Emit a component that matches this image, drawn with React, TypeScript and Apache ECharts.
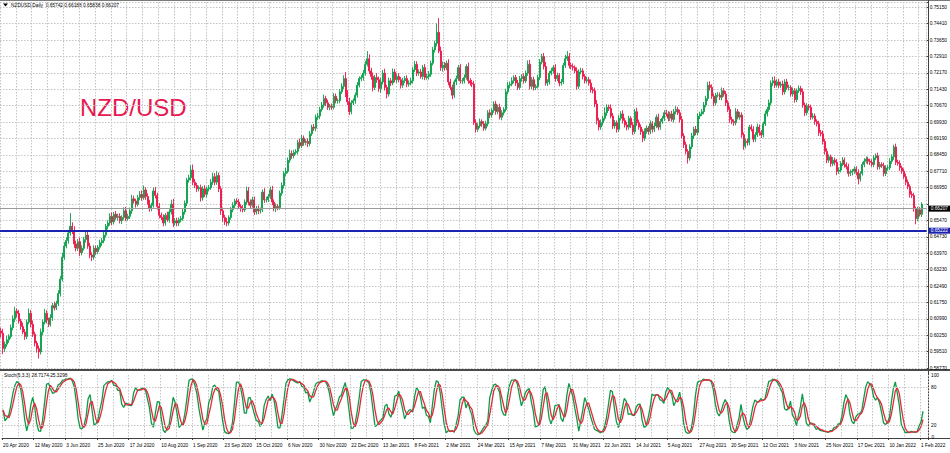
import React, { useEffect, useRef } from 'react';
import * as echarts from 'echarts';

// ---- tick labels ----
const DATE_LABELS = ['20 Apr 2020', '12 May 2020', '3 Jun 2020', '25 Jun 2020', '17 Jul 2020', '10 Aug 2020', '1 Sep 2020', '23 Sep 2020', '15 Oct 2020', '6 Nov 2020', '30 Nov 2020', '22 Dec 2020', '13 Jan 2021', '8 Feb 2021', '2 Mar 2021', '24 Mar 2021', '15 Apr 2021', '7 May 2021', '31 May 2021', '22 Jun 2021', '14 Jul 2021', '5 Aug 2021', '27 Aug 2021', '20 Sep 2021', '12 Oct 2021', '3 Nov 2021', '25 Nov 2021', '17 Dec 2021', '10 Jan 2022', '1 Feb 2022'];
const BARS_PER_DATE_LABEL = 16;
const BARS_PER_GRID = 8;
const TOTAL_SLOTS = 468;

// price scale labels, bottom to top ('' = hidden under the bid label)
const PRICE_LABELS = ['0.58770', '0.59510', '0.60250', '0.60990', '0.61750', '0.62490', '0.63230', '0.63970', '0.64730', '0.65470', '', '0.66950', '0.67710', '0.68450', '0.69190', '0.69930', '0.70670', '0.71430', '0.72170', '0.72910', '0.73650', '0.74410', '0.75150'];
const PRICE_STEP = 0.5877 / 79;
const PRICE_MIN_K = 79;
const PRICE_MAX = 0.75376;
const STOCH_LABELS = [20, 80, 100];
const STOCH_ZERO_LABEL = '0';
const STOCH_LEVELS = [20, 80];

const BID = 0.66207;
const SUPPORT = 0.65222;
const HEADER = 'NZDUSD,Daily  0.65742 0.66188 0.65838 0.66207';
const STOCH_TITLE = 'Stoch(5,3,3) 28.7174 25.3298';

// ---- daily data ----
const FIRST_OPEN = 0.6045;
const CLOSES = [
  0.6035, 0.5965, 0.5985, 0.6005, 0.6020, 0.6060, 0.6100, 0.6135, 0.6125, 0.6090, 0.6065, 0.6040, 0.6020, 0.6085, 0.6125, 0.6075,
  0.6030, 0.5990, 0.5965, 0.5950, 0.6040, 0.6085, 0.6125, 0.6095, 0.6075, 0.6105, 0.6160, 0.6150, 0.6170, 0.6215, 0.6280, 0.6380,
  0.6430, 0.6455, 0.6490, 0.6520, 0.6500, 0.6440, 0.6420, 0.6450, 0.6400, 0.6420, 0.6460, 0.6480, 0.6430, 0.6390, 0.6380, 0.6420,
  0.6405, 0.6425, 0.6445, 0.6455, 0.6480, 0.6520, 0.6535, 0.6565, 0.6540, 0.6575, 0.6560, 0.6565, 0.6545, 0.6560, 0.6590, 0.6555,
  0.6565, 0.6590, 0.6645, 0.6635, 0.6620, 0.6650, 0.6665, 0.6650, 0.6685, 0.6655, 0.6630, 0.6600, 0.6615, 0.6680, 0.6660, 0.6610,
  0.6570, 0.6560, 0.6535, 0.6570, 0.6550, 0.6585, 0.6620, 0.6535, 0.6545, 0.6535, 0.6550, 0.6555, 0.6585, 0.6625, 0.6730, 0.6740,
  0.6775, 0.6720, 0.6705, 0.6690, 0.6695, 0.6650, 0.6690, 0.6665, 0.6690, 0.6695, 0.6720, 0.6745, 0.6720, 0.6750, 0.6690, 0.6590,
  0.6560, 0.6540, 0.6535, 0.6560, 0.6595, 0.6615, 0.6635, 0.6630, 0.6610, 0.6600, 0.6595, 0.6630, 0.6680, 0.6630, 0.6615, 0.6640,
  0.6585, 0.6600, 0.6590, 0.6595, 0.6675, 0.6640, 0.6640, 0.6655, 0.6685, 0.6630, 0.6600, 0.6610, 0.6605, 0.6670, 0.6705, 0.6760,
  0.6770, 0.6820, 0.6850, 0.6840, 0.6855, 0.6860, 0.6900, 0.6885, 0.6920, 0.6900, 0.6905, 0.6895, 0.6940, 0.6970, 0.6965, 0.7015,
  0.7020, 0.7050, 0.7070, 0.7100, 0.7080, 0.7060, 0.7065, 0.7060, 0.7110, 0.7090, 0.7090, 0.7130, 0.7155, 0.7190, 0.7120, 0.7085,
  0.7040, 0.7080, 0.7090, 0.7115, 0.7160, 0.7190, 0.7195, 0.7215, 0.7255, 0.7280, 0.7225, 0.7200, 0.7150, 0.7195, 0.7185, 0.7145,
  0.7175, 0.7215, 0.7150, 0.7120, 0.7180, 0.7170, 0.7220, 0.7185, 0.7200, 0.7185, 0.7160, 0.7180, 0.7190, 0.7165, 0.7170, 0.7180,
  0.7230, 0.7255, 0.7215, 0.7220, 0.7200, 0.7240, 0.7195, 0.7200, 0.7210, 0.7260, 0.7320, 0.7350, 0.7400, 0.7315, 0.7240, 0.7250,
  0.7240, 0.7260, 0.7175, 0.7150, 0.7115, 0.7175, 0.7190, 0.7240, 0.7180, 0.7180, 0.7195, 0.7245, 0.7180, 0.7170, 0.7165, 0.6990,
  0.6960, 0.6975, 0.6995, 0.6985, 0.6965, 0.6985, 0.7035, 0.7025, 0.7045, 0.7075, 0.7040, 0.7060, 0.7015, 0.7035, 0.7050, 0.7130,
  0.7160, 0.7165, 0.7180, 0.7195, 0.7170, 0.7150, 0.7190, 0.7200, 0.7180, 0.7215, 0.7255, 0.7155, 0.7185, 0.7150, 0.7155, 0.7195,
  0.7265, 0.7290, 0.7245, 0.7170, 0.7175, 0.7215, 0.7225, 0.7240, 0.7190, 0.7205, 0.7170, 0.7175, 0.7250, 0.7280, 0.7290, 0.7250,
  0.7245, 0.7240, 0.7225, 0.7155, 0.7220, 0.7225, 0.7200, 0.7180, 0.7185, 0.7170, 0.7140, 0.7135, 0.7075, 0.7000, 0.6970, 0.6990,
  0.7010, 0.7035, 0.7060, 0.7055, 0.7020, 0.6975, 0.6990, 0.6960, 0.7010, 0.7030, 0.7000, 0.6980, 0.6970, 0.7010, 0.6980, 0.6950,
  0.7040, 0.6990, 0.6970, 0.6950, 0.6920, 0.6950, 0.6965, 0.6950, 0.6985, 0.6960, 0.6975, 0.7015, 0.6970, 0.6995, 0.7010, 0.7035,
  0.7030, 0.7010, 0.7030, 0.7005, 0.7040, 0.7050, 0.7035, 0.7005, 0.6930, 0.6890, 0.6860, 0.6830, 0.6880, 0.6930, 0.6960, 0.6945,
  0.7020, 0.7030, 0.7040, 0.7070, 0.7100, 0.7160, 0.7150, 0.7110, 0.7080, 0.7115, 0.7115, 0.7105, 0.7135, 0.7120, 0.7080, 0.7050,
  0.7005, 0.6995, 0.6990, 0.7040, 0.7015, 0.7025, 0.6935, 0.6885, 0.6905, 0.6900, 0.6970, 0.6960, 0.6915, 0.6935, 0.6970, 0.6945,
  0.6935, 0.6985, 0.7030, 0.7050, 0.7080, 0.7170, 0.7180, 0.7160, 0.7175, 0.7160, 0.7165, 0.7130, 0.7175, 0.7150, 0.7150, 0.7120,
  0.7135, 0.7095, 0.7135, 0.7145, 0.7130, 0.7070, 0.7035, 0.7065, 0.7060, 0.7015, 0.7020, 0.6995, 0.6985, 0.6945, 0.6940, 0.6905,
  0.6860, 0.6820, 0.6835, 0.6805, 0.6820, 0.6810, 0.6770, 0.6775, 0.6805, 0.6820, 0.6800, 0.6790, 0.6760, 0.6765, 0.6770, 0.6780,
  0.6765, 0.6735, 0.6760, 0.6800, 0.6815, 0.6825, 0.6815, 0.6810, 0.6800, 0.6830, 0.6840, 0.6790, 0.6800, 0.6795, 0.6760, 0.6785,
  0.6785, 0.6815, 0.6835, 0.6880, 0.6810, 0.6805, 0.6785, 0.6770, 0.6745, 0.6720, 0.6700, 0.6665, 0.6660, 0.6600, 0.6555, 0.6595,
  0.65742, 0.66207,
];
// upper / lower wick lengths in pips beyond the candle body
const UPPER_WICK_PIPS = [
  15, 20, 12, 18, 10, 14, 16, 20, 12, 15, 10, 18, 14, 12, 22, 15,
  18, 12, 10, 14, 16, 12, 20, 14, 10, 16, 12, 18, 12, 15, 14, 20,
  18, 15, 12, 60, 18, 20, 15, 12, 18, 14, 12, 16, 20, 15, 12, 14,
  12, 10, 14, 12, 15, 10, 12, 14, 18, 10, 15, 12, 14, 10, 16, 18,
  12, 15, 18, 14, 10, 12, 15, 18, 20, 12, 14, 10, 12, 16, 18, 12,
  15, 12, 14, 10, 16, 12, 20, 25, 12, 14, 10, 12, 15, 12, 10, 14,
  22, 25, 15, 12, 10, 14, 12, 16, 10, 12, 14, 18, 16, 20, 14, 12,
  15, 12, 18, 10, 12, 14, 10, 12, 14, 10, 16, 12, 20, 18, 12, 14,
  15, 12, 14, 10, 12, 18, 14, 12, 15, 18, 12, 14, 10, 12, 14, 10,
  15, 12, 18, 14, 12, 10, 12, 18, 14, 12, 10, 14, 12, 10, 14, 12,
  15, 12, 14, 18, 12, 14, 10, 12, 14, 12, 10, 12, 14, 15, 30, 18,
  18, 12, 10, 12, 14, 10, 12, 14, 16, 35, 20, 14, 18, 12, 20, 14,
  18, 14, 20, 12, 15, 12, 16, 14, 12, 15, 12, 14, 12, 15, 12, 14,
  12, 15, 14, 12, 14, 12, 16, 12, 14, 12, 14, 12, 40, 65, 20, 18,
  15, 12, 18, 14, 12, 10, 14, 12, 16, 12, 14, 10, 18, 12, 14, 15,
  15, 12, 14, 10, 12, 14, 12, 15, 10, 12, 14, 12, 16, 12, 10, 14,
  14, 12, 16, 10, 12, 14, 12, 10, 14, 12, 18, 20, 12, 14, 10, 12,
  14, 12, 16, 20, 12, 10, 14, 12, 16, 12, 10, 14, 12, 18, 25, 16,
  12, 14, 10, 16, 12, 14, 12, 10, 14, 12, 16, 12, 14, 18, 12, 15,
  12, 25, 14, 12, 18, 14, 12, 10, 14, 12, 16, 12, 14, 12, 10, 14,
  12, 18, 14, 12, 10, 14, 12, 10, 15, 12, 14, 12, 16, 12, 10, 12,
  14, 12, 10, 14, 12, 15, 12, 14, 16, 12, 14, 10, 12, 14, 12, 15,
  12, 10, 12, 14, 12, 15, 18, 14, 12, 10, 14, 12, 15, 12, 14, 12,
  14, 12, 10, 16, 12, 14, 12, 10, 14, 12, 10, 12, 14, 12, 16, 12,
  12, 10, 14, 12, 15, 12, 18, 20, 12, 14, 12, 16, 12, 14, 12, 10,
  14, 12, 10, 14, 12, 15, 12, 14, 10, 12, 14, 12, 10, 14, 12, 15,
  12, 14, 12, 10, 14, 12, 15, 12, 10, 14, 12, 10, 14, 12, 10, 12,
  12, 14, 10, 12, 14, 12, 10, 12, 14, 12, 10, 14, 12, 10, 14, 12,
  12, 14, 12, 10, 15, 12, 14, 10, 12, 14, 12, 10, 14, 12, 10, 14,
  12, 8,
];
const LOWER_WICK_PIPS = [
  20, 25, 15, 12, 14, 10, 12, 15, 18, 12, 14, 10, 15, 12, 10, 14,
  12, 15, 18, 30, 12, 14, 10, 16, 12, 10, 14, 12, 10, 12, 14, 10,
  12, 10, 14, 12, 15, 18, 14, 12, 16, 12, 10, 14, 12, 15, 18, 12,
  14, 12, 10, 14, 12, 10, 14, 12, 15, 12, 10, 14, 12, 15, 10, 12,
  10, 12, 14, 12, 15, 10, 12, 14, 10, 15, 12, 14, 12, 10, 14, 15,
  14, 12, 15, 12, 10, 14, 12, 18, 12, 15, 14, 12, 10, 12, 14, 12,
  12, 14, 12, 15, 12, 18, 14, 12, 14, 12, 10, 12, 14, 12, 15, 18,
  20, 14, 15, 12, 10, 12, 14, 10, 12, 14, 12, 10, 12, 15, 12, 10,
  14, 12, 15, 12, 10, 14, 12, 10, 12, 14, 12, 15, 12, 10, 12, 14,
  12, 10, 12, 14, 12, 10, 14, 12, 10, 14, 12, 15, 12, 10, 12, 14,
  12, 14, 10, 12, 15, 12, 14, 12, 10, 12, 14, 12, 10, 12, 14, 15,
  15, 12, 10, 14, 12, 10, 12, 14, 12, 10, 14, 15, 18, 12, 14, 15,
  20, 12, 14, 20, 12, 14, 10, 12, 14, 12, 15, 12, 10, 14, 12, 10,
  12, 10, 14, 12, 10, 14, 12, 10, 14, 12, 10, 12, 14, 10, 15, 18,
  14, 12, 15, 12, 18, 12, 14, 10, 12, 14, 12, 10, 14, 12, 14, 10,
  15, 12, 10, 14, 12, 10, 12, 14, 12, 10, 14, 12, 10, 14, 12, 10,
  12, 14, 10, 12, 14, 12, 10, 14, 12, 10, 12, 14, 12, 14, 12, 10,
  12, 10, 14, 12, 14, 12, 10, 12, 14, 12, 15, 12, 10, 12, 10, 14,
  12, 14, 10, 15, 12, 10, 14, 12, 10, 12, 14, 12, 15, 18, 15, 12,
  12, 10, 14, 12, 10, 14, 12, 15, 12, 10, 14, 12, 15, 12, 14, 15,
  12, 14, 12, 15, 18, 12, 10, 14, 12, 15, 12, 10, 14, 12, 10, 12,
  12, 14, 12, 10, 14, 12, 10, 14, 12, 15, 14, 25, 12, 10, 14, 12,
  12, 14, 10, 12, 10, 12, 14, 12, 15, 12, 10, 12, 14, 12, 14, 12,
  15, 12, 14, 12, 10, 12, 14, 18, 12, 14, 12, 10, 14, 12, 10, 14,
  14, 12, 10, 12, 10, 12, 14, 12, 10, 14, 12, 15, 12, 10, 14, 12,
  12, 14, 12, 10, 14, 12, 15, 12, 14, 12, 10, 14, 12, 15, 12, 14,
  15, 14, 12, 15, 12, 14, 18, 12, 10, 12, 14, 12, 15, 12, 14, 12,
  14, 25, 12, 10, 12, 10, 14, 12, 10, 12, 10, 14, 12, 10, 14, 12,
  12, 10, 12, 14, 12, 10, 14, 12, 10, 14, 12, 15, 12, 14, 26, 12,
  10, 12,
];

const BULL = '#0aa04a';
const BEAR = '#ec1548';
const STOCH_MAIN = '#0d9a46';
const STOCH_SIGNAL = '#e5283a';
const GRID_LINE = '#c4c4c4';
const FONT = '"Liberation Sans", Arial, sans-serif';

function buildCandles() {
  return CLOSES.map((c, i) => {
    const o = i === 0 ? FIRST_OPEN : CLOSES[i - 1];
    const hi = Math.max(o, c) + (UPPER_WICK_PIPS[i] ?? 10) / 10000;
    const lo = Math.min(o, c) - (LOWER_WICK_PIPS[i] ?? 10) / 10000;
    return [o, c, +lo.toFixed(5), +hi.toFixed(5)];
  });
}

// Stochastic oscillator (5,3,3) of the candles above, as in the terminal
function buildStoch(candles: number[][]) {
  const num: number[] = [];
  const den: number[] = [];
  candles.forEach((k, i) => {
    let ll = Infinity;
    let hh = -Infinity;
    for (let j = Math.max(0, i - 4); j <= i; j++) {
      ll = Math.min(ll, candles[j][2]);
      hh = Math.max(hh, candles[j][3]);
    }
    num.push(k[1] - ll);
    den.push(hh - ll);
  });
  const main: number[] = [];
  for (let i = 0; i < candles.length; i++) {
    let n = 0;
    let d = 0;
    for (let j = Math.max(0, i - 2); j <= i; j++) {
      n += num[j];
      d += den[j];
    }
    main.push(d > 0 ? (100 * n) / d : 50);
  }
  const signal: number[] = [];
  for (let i = 0; i < main.length; i++) {
    let s = 0;
    let c = 0;
    for (let j = Math.max(0, i - 2); j <= i; j++) {
      s += main[j];
      c++;
    }
    signal.push(s / c);
  }
  return { main, signal };
}

export default function App() {
  const ref = useRef<HTMLDivElement>(null);
  useEffect(() => {
    if (!ref.current) return;
    const chart = echarts.init(ref.current, undefined, { renderer: 'svg' });
    const candles = buildCandles();
    const { main, signal } = buildStoch(candles);
    const slots = Array.from({ length: TOTAL_SLOTS }, (_, i) => String(i));

    const labelFont = { fontSize: 4.8, fontFamily: FONT, color: '#000' };
    const splitX = {
      show: true,
      interval: (idx: number) => idx % BARS_PER_GRID === 0,
      lineStyle: { color: GRID_LINE, type: [1.5, 1.5] as any, width: 1 },
    };
    const dateTick = (idx: number) => idx % BARS_PER_DATE_LABEL === 0 && idx / BARS_PER_DATE_LABEL < DATE_LABELS.length;

    chart.setOption({
      animation: false,
      backgroundColor: '#ffffff',
      grid: [
        { left: 0, right: 22, top: 2, height: 366 },
        { left: 0, right: 22, top: 375, height: 63 },
      ],
      xAxis: [
        {
          gridIndex: 0,
          type: 'category',
          data: slots,
          boundaryGap: true,
          axisLine: { show: false },
          axisTick: { show: false },
          axisLabel: { show: false },
          splitLine: splitX,
        },
        {
          gridIndex: 1,
          type: 'category',
          data: slots,
          boundaryGap: true,
          axisLine: { show: true, lineStyle: { color: '#404040', width: 1 } },
          axisTick: { show: true, length: 2, interval: dateTick, lineStyle: { color: '#404040' } },
          axisLabel: {
            ...labelFont,
            margin: 5,
            align: 'left',
            interval: dateTick,
            formatter: (_v: string, idx: number) => DATE_LABELS[idx / BARS_PER_DATE_LABEL] ?? '',
          },
          splitLine: splitX,
        },
      ],
      yAxis: [
        {
          gridIndex: 0,
          type: 'value',
          position: 'right',
          min: PRICE_STEP * PRICE_MIN_K,
          max: PRICE_MAX,
          interval: PRICE_STEP,
          axisLine: { show: false },
          axisTick: { show: true, length: 2, lineStyle: { color: '#404040' } },
          axisLabel: {
            ...labelFont,
            margin: 3,
            showMinLabel: true,
            showMaxLabel: true,
            formatter: (v: number) => {
              const k = Math.round(v / PRICE_STEP);
              if (Math.abs(v - k * PRICE_STEP) > PRICE_STEP * 0.05) return '';
              return PRICE_LABELS[k - PRICE_MIN_K] ?? '';
            },
          },
          splitLine: { show: true, lineStyle: { color: GRID_LINE, type: [1.5, 1.5] as any, width: 1 } },
        },
        {
          gridIndex: 1,
          type: 'value',
          position: 'right',
          min: 0,
          max: 100,
          interval: 20,
          axisLine: { show: false },
          axisTick: { show: false },
          axisLabel: {
            ...labelFont,
            margin: 3,
            formatter: (v: number) => (STOCH_LABELS.includes(Math.round(v)) ? String(Math.round(v)) : ''),
          },
          splitLine: { show: false },
        },
      ],
      series: [
        {
          type: 'candlestick',
          xAxisIndex: 0,
          yAxisIndex: 0,
          data: candles,
          barWidth: 1.5,
          large: false,
          itemStyle: {
            color: BULL,
            color0: BEAR,
            borderColor: BULL,
            borderColor0: BEAR,
            borderWidth: 0.9,
          },
          markLine: {
            silent: true,
            symbol: 'none',
            animation: false,
            data: [
              {
                yAxis: BID,
                lineStyle: { color: '#9a9a9a', width: 1, type: 'solid' },
                label: {
                  show: true,
                  position: 'end',
                  distance: 2,
                  formatter: BID.toFixed(5),
                  color: '#ffffff',
                  backgroundColor: '#000000',
                  padding: [1, 2, 0, 2],
                  fontSize: 4.8,
                  fontFamily: FONT,
                },
              },
              {
                yAxis: SUPPORT,
                lineStyle: { color: '#1c22b0', width: 2, type: 'solid' },
                label: {
                  show: true,
                  position: 'end',
                  distance: 2,
                  formatter: SUPPORT.toFixed(5),
                  color: '#ffffff',
                  backgroundColor: '#1c22b0',
                  padding: [1, 2, 0, 2],
                  fontSize: 4.8,
                  fontFamily: FONT,
                },
              },
            ],
          },
        },
        {
          type: 'line',
          xAxisIndex: 1,
          yAxisIndex: 1,
          data: main,
          showSymbol: false,
          lineStyle: { color: STOCH_MAIN, width: 1.3 },
          markLine: {
            silent: true,
            symbol: 'none',
            animation: false,
            label: { show: false },
            lineStyle: { color: GRID_LINE, type: [1.5, 1.5] as any, width: 1 },
            data: STOCH_LEVELS.map((v) => ({ yAxis: v })),
          },
        },
        {
          type: 'line',
          xAxisIndex: 1,
          yAxisIndex: 1,
          data: signal,
          showSymbol: false,
          lineStyle: { color: STOCH_SIGNAL, width: 1.3 },
        },
      ],
      graphic: [
        { type: 'line', shape: { x1: 0, y1: 0.5, x2: 950, y2: 0.5 }, style: { stroke: '#7a7a7a', lineWidth: 1 } },
        { type: 'line', shape: { x1: 928.5, y1: 0, x2: 928.5, y2: 439 }, style: { stroke: '#404040', lineWidth: 1 } },
        { type: 'rect', shape: { x: 0, y: 369, width: 950, height: 2 }, style: { fill: '#4a4a4a' } },
        { type: 'line', shape: { x1: 928, y1: 438.5, x2: 950, y2: 438.5 }, style: { stroke: '#404040', lineWidth: 1 } },
        {
          type: 'polygon',
          shape: { points: [[3, 3.5], [8, 3.5], [5.5, 6.5]] },
          style: { fill: '#000' },
        },
        {
          type: 'text',
          x: 11,
          y: 2.5,
          style: { text: HEADER, fill: '#000', fontSize: 4.8, fontFamily: FONT, verticalAlign: 'top' },
        },
        {
          type: 'text',
          x: 80,
          y: 107,
          style: { text: 'NZD/USD', fill: '#e8174f', fontSize: 24, fontFamily: FONT, verticalAlign: 'middle' },
        },
        {
          type: 'text',
          x: 4,
          y: 373,
          style: { text: STOCH_TITLE, fill: '#000', fontSize: 4.8, fontFamily: FONT, verticalAlign: 'top' },
        },
        {
          type: 'text',
          x: 931.5,
          y: 437,
          style: { text: STOCH_ZERO_LABEL, fill: '#000', fontSize: 4.8, fontFamily: FONT, verticalAlign: 'middle' },
        },
      ],
    });
    return () => chart.dispose();
  }, []);

  return (
    <div
      ref={ref}
      style={{ position: 'fixed', left: 0, top: 0, width: 950, height: 453, background: '#fff' }}
    />
  );
}
